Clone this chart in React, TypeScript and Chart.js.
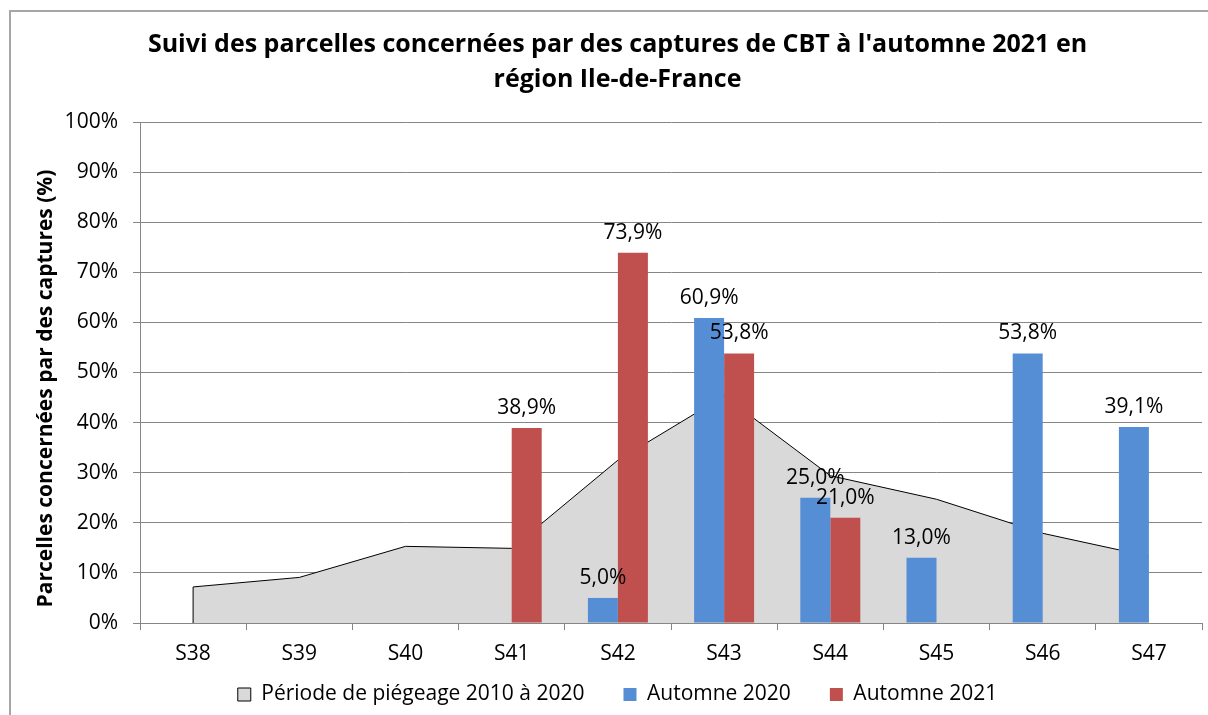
import React, { useEffect, useRef } from 'react';
import { Chart, registerables } from 'chart.js';

Chart.register(...registerables);

const categories = ['S38', 'S39', 'S40', 'S41', 'S42', 'S43', 'S44', 'S45', 'S46', 'S47'];
const periode2010_2020 = [7.2, 9.1, 15.3, 14.9, 32.5, 45.3, 29.4, 24.7, 17.9, 13.3];
const automne2020 = [null, null, null, null, 5.0, 60.9, 25.0, 13.0, 53.8, 39.1];
const automne2021 = [null, null, null, 38.9, 73.9, 53.8, 21.0, null, null, null];
const yTickValues = [0, 10, 20, 30, 40, 50, 60, 70, 80, 90, 100];
const seriesNames = ['Période de piégeage 2010 à 2020', 'Automne 2020', 'Automne 2021'];
const titleLines = [
  "Suivi des parcelles concernées par des captures de CBT à l'automne 2021 en",
  'région Ile-de-France',
];
const yAxisTitle = 'Parcelles concernées par des captures (%)';

const FONT = "'Open Sans', 'Noto Sans', sans-serif";
const GRID = '#868686';

const fmt = (v: number) => v.toFixed(1).replace('.', ',') + '%';

const areaEdge = {
  id: 'areaEdge',
  afterDatasetDraw(chart: any, args: any) {
    if (args.index !== 0) return;
    const first = args.meta.data[0];
    if (!first) return;
    const ctx = chart.ctx;
    ctx.save();
    ctx.strokeStyle = '#000';
    ctx.lineWidth = 1;
    ctx.beginPath();
    ctx.moveTo(first.x, chart.scales.y.getPixelForValue(0));
    ctx.lineTo(first.x, first.y);
    ctx.stroke();
    ctx.restore();
  },
};

const valueLabels = {
  id: 'valueLabels',
  afterDatasetsDraw(chart: any) {
    const ctx = chart.ctx;
    ctx.save();
    ctx.font = `21px ${FONT}`;
    ctx.fillStyle = '#000';
    ctx.textAlign = 'center';
    ctx.textBaseline = 'middle';
    chart.data.datasets.forEach((ds: any, i: number) => {
      if (ds.type === 'line') return;
      const meta = chart.getDatasetMeta(i);
      meta.data.forEach((el: any, j: number) => {
        const v = ds.data[j];
        if (v == null) return;
        ctx.fillText(fmt(v), el.x, el.y - 20);
      });
    });
    ctx.restore();
  },
};

const axisTexts = {
  id: 'axisTexts',
  afterDraw(chart: any) {
    const ctx = chart.ctx;
    const area = chart.chartArea;
    const xs = chart.scales.x;
    ctx.save();
    ctx.fillStyle = '#000';
    ctx.textAlign = 'center';
    ctx.textBaseline = 'middle';
    ctx.font = `21px ${FONT}`;
    categories.forEach((c, i) => {
      ctx.fillText(c, xs.getPixelForValue(i), area.bottom + 31);
    });
    ctx.font = `bold 21px ${FONT}`;
    ctx.translate(46, (area.top + area.bottom) / 2 + 16);
    ctx.rotate(-Math.PI / 2);
    ctx.fillText(yAxisTitle, 0, 0);
    ctx.restore();
  },
};

export default function App() {
  const ref = useRef<HTMLCanvasElement | null>(null);

  useEffect(() => {
    if (!ref.current) return;
    const chart = new Chart(ref.current, {
      type: 'bar',
      data: {
        labels: categories,
        datasets: [
          {
            type: 'line',
            label: seriesNames[0],
            data: periode2010_2020,
            backgroundColor: '#D9D9D9',
            borderColor: '#000000',
            borderWidth: 1,
            pointRadius: 0,
            tension: 0,
            fill: 'origin',
            order: 2,
          } as any,
          {
            type: 'bar',
            label: seriesNames[1],
            data: automne2020,
            backgroundColor: '#558ED5',
            borderWidth: 0,
            order: 1,
          },
          {
            type: 'bar',
            label: seriesNames[2],
            data: automne2021,
            backgroundColor: '#C0504D',
            borderWidth: 0,
            order: 1,
          },
        ],
      },
      options: {
        responsive: false,
        animation: false,
        devicePixelRatio: 1,
        datasets: {
          bar: { categoryPercentage: 0.565, barPercentage: 1 },
        },
        layout: { padding: { left: 33, right: 6, top: 0, bottom: 0 } },
        plugins: {
          tooltip: { enabled: false },
          title: {
            display: true,
            text: titleLines,
            color: '#000',
            font: { family: FONT, size: 25, weight: 'bold', lineHeight: 1.4 },
            padding: { top: 27, bottom: 25 },
          },
          legend: {
            position: 'bottom',
            labels: {
              color: '#000',
              font: { family: FONT, size: 21 },
              boxWidth: 13,
              boxHeight: 13,
              padding: 39,
              sort: (a: any, b: any) => a.datasetIndex - b.datasetIndex,
            },
          },
        },
        scales: {
          x: {
            afterFit: (s: any) => {
              s.height = 22;
            },
            grid: {
              display: true,
              drawOnChartArea: false,
              drawTicks: true,
              tickLength: 7,
              color: GRID,
              offset: true,
            },
            border: { color: GRID },
            ticks: { display: false },
          },
          y: {
            min: 0,
            max: 100,
            afterBuildTicks: (s: any) => {
              s.ticks = yTickValues.map((v) => ({ value: v }));
            },
            afterFit: (s: any) => {
              s.width = 107;
            },
            grid: { color: GRID, tickLength: 7 },
            border: { color: GRID },
            ticks: {
              color: '#000',
              font: { family: FONT, size: 21 },
              padding: 15,
              callback: (v: any) => v + '%',
            },
          },
        },
      },
      plugins: [areaEdge, valueLabels, axisTexts],
    });
    return () => chart.destroy();
  }, []);

  return (
    <div style={{ position: 'absolute', left: 0, top: 0, width: 1208, height: 715, background: '#fff', overflow: 'hidden' }}>
      <div
        style={{
          position: 'absolute',
          left: 9,
          top: 10,
          width: 1300,
          height: 800,
          borderTop: '2px solid #A6A6A6',
          borderLeft: '2px solid #A6A6A6',
        }}
      />
      <canvas ref={ref} width={1208} height={715} style={{ position: 'absolute', left: 0, top: 0, width: 1208, height: 715 }} />
    </div>
  );
}
